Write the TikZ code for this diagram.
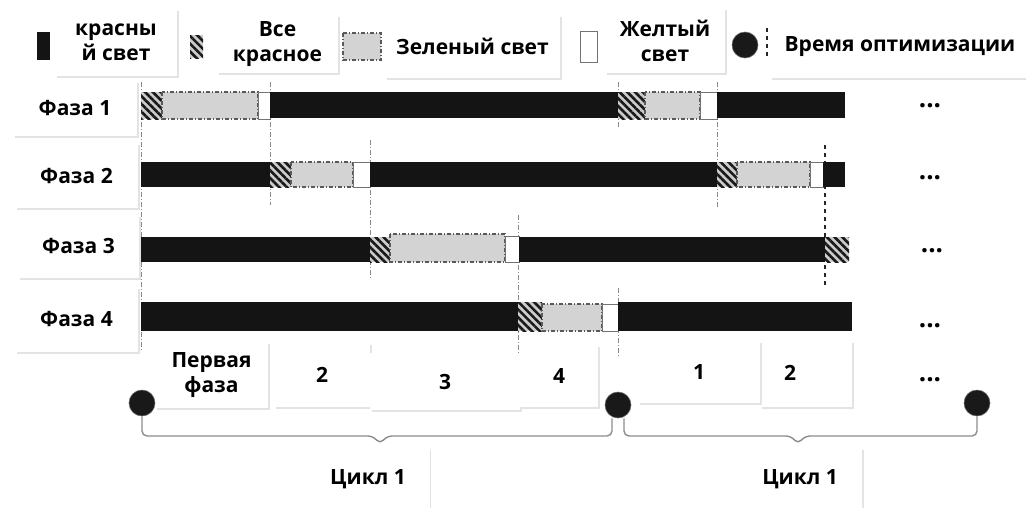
\documentclass[tikz,border=0pt]{standalone}
\usepackage{fontspec}
\setmainfont{Open Sans}
\usetikzlibrary{patterns.meta,shadows,calc}
\definecolor{barblack}{HTML}{141414}
\definecolor{greenfill}{HTML}{D3D3D3}
\definecolor{guide}{HTML}{8A8A8A}
\definecolor{bracegray}{HTML}{8C8C8C}
\begin{document}
\begin{tikzpicture}[x=1pt,y=-1pt,
  redseg/.style={fill=barblack},
  allred/.style={preaction={fill=black!20},
    pattern={Lines[angle=-45,distance=5.5pt,line width=2.6pt]}, pattern color=black!90},
  greenseg/.style={fill=greenfill, draw=black!65, line width=1.1pt, dash pattern=on 4pt off 2pt on 1pt off 2pt},
  yelseg/.style={fill=white, draw=black!55, line width=0.8pt},
  guideline/.style={draw=guide, line width=0.7pt, dash pattern=on 5pt off 2pt on 1pt off 2pt},
  optline/.style={draw=black!85, line width=2.2pt, dash pattern=on 4pt off 4pt},
  box/.style={fill=white, inner sep=0pt, align=center,
    drop shadow={opacity=0.22, shadow xshift=1.5pt, shadow yshift=-2pt},
    font=\bfseries\fontsize{21}{25}\selectfont},
  txt/.style={inner sep=0pt, font=\bfseries\fontsize{21}{25}\selectfont},
  dots/.style={inner sep=0pt, font=\bfseries\fontsize{26}{28}\selectfont},
  dotnode/.style={circle, fill=black!90, draw=black!60, line width=0.6pt, minimum size=26pt, inner sep=0pt},
  bracestyle/.style={draw=bracegray, line width=1.4pt, rounded corners=5pt}
]
\useasboundingbox (0,0) rectangle (1026,507);

% guide lines
\draw[guideline] (141,82) -- (141,352);
\draw[guideline] (270,82) -- (270,205);
\draw[guideline] (370,140) -- (370,280);
\draw[guideline] (518,215) -- (518,356);
\draw[guideline] (618,82) -- (618,128);
\draw[guideline] (618,288) -- (618,356);
\draw[guideline] (717,82) -- (717,208);
\draw[optline] (825,145) -- (825,286);

% Phase 1 bar
\path[allred] (141,92) rectangle (162,119);
\draw[greenseg] (162,92) rectangle (258,119);
\draw[yelseg] (258,92) rectangle (270,119);
\path[redseg] (270,92) rectangle (618,118);
\path[allred] (618,92) rectangle (645,119);
\draw[greenseg] (645,92) rectangle (700,119);
\draw[yelseg] (700,92) rectangle (717,119);
\path[redseg] (717,92) rectangle (845,118);

% Phase 2 bar
\path[redseg] (141,162) rectangle (270,187);
\path[allred] (270,162) rectangle (291,187);
\draw[greenseg] (291,162) rectangle (353,187);
\draw[yelseg] (353,162) rectangle (370,187);
\path[redseg] (370,162) rectangle (717,187);
\path[allred] (717,162) rectangle (737,187);
\draw[greenseg] (737,162) rectangle (810,187);
\draw[yelseg] (810,162) rectangle (823,187);
\path[redseg] (823,162) rectangle (845,187);

% Phase 3 bar
\path[redseg] (141,237) rectangle (370,262);
\path[allred] (370,237) rectangle (390,262);
\draw[greenseg] (390,234) rectangle (505,262);
\draw[yelseg] (505,236) rectangle (519,262);
\path[redseg] (519,237) rectangle (825,262);
\path[allred] (825,237) rectangle (849,262);

% Phase 4 bar
\path[redseg] (141,302) rectangle (518,331);
\path[allred] (518,302) rectangle (542,331);
\draw[greenseg] (542,304) rectangle (602,331);
\draw[yelseg] (602,304) rectangle (618,331);
\path[redseg] (618,302) rectangle (852,331);

% legend swatches
\path[redseg] (37,32) rectangle (50,60);
\path[allred] (190,35) rectangle (203,58);
\draw[greenseg] (343,33) rectangle (381,60);
\draw[yelseg] (580,31) rectangle (597,62);
\node[dotnode] (lc) at (745,45) {};
\draw[optline] (767,28) -- (767,56);

% legend labels
\node[box, minimum width=122pt, minimum height=67pt] (l1) at (116,42) {красны\\й свет};
\node[box, minimum width=121pt, minimum height=58pt] (l2) at (277.5,44) {Все\\красное};
\node[box, minimum width=175pt, minimum height=63pt] (l3) at (472.5,46) {Зеленый свет};
\node[box, minimum width=120pt, minimum height=65pt] (l4) at (665,40.5) {Желтый\\свет};
\node[box, minimum width=260pt, minimum height=63pt] (l5) at (900,46.5) {Время оптимизации};

% phase labels
\node[box, minimum width=124pt, minimum height=55pt] (p1) at (75,108) {Фаза 1};
\node[box, minimum width=123pt, minimum height=65pt] (p2) at (76.5,175.5) {Фаза 2};
\node[box, minimum width=121pt, minimum height=63pt] (p3) at (78.5,246) {Фаза 3};
\node[box, minimum width=123pt, minimum height=65pt] (p4) at (76.5,319) {Фаза 4};

% dots
\node[dots] (d1) at (930,106) {...};
\node[dots] (d2) at (930,178) {...};
\node[dots] (d3) at (932,251) {...};
\node[dots] (d4) at (930,326) {...};
\node[dots] (d5) at (930,380) {...};

% bottom phase-order boxes
\node[box, minimum width=113pt, minimum height=66pt] (b1) at (211.5,375) {Первая\\фаза};
\node[box, minimum width=96pt, minimum height=64pt] (b2) at (322,375) {2};
\node[box, minimum width=150pt, minimum height=57pt] (b3) at (445,381.5) {3};
\node[box, minimum width=78pt, minimum height=62pt] (b4) at (559,376) {4};
\node[box, minimum width=92pt, minimum height=66pt] (b6) at (806,374) {};
\node[txt] (b6t) at (790,373) {2};
\node[box, minimum width=122pt, minimum height=62pt] (b5) at (699,372) {1};

% optimisation time points
\node[dotnode] (c1) at (142,403) {};
\node[dotnode] (c2) at (618,405) {};
\node[dotnode] (c3) at (977,403) {};

% braces
\coordinate (t1) at (380,444);
\coordinate (t2) at (798,444);
\draw[bracestyle] (c1.south) |- ($(t1)+(-7,-8)$) -- (t1) -- ($(t1)+(7,-8)$) -| ([xshift=-6pt]c2.south);
\draw[bracestyle] ([xshift=6pt]c2.south) |- ($(t2)+(-7,-8)$) -- (t2) -- ($(t2)+(7,-8)$) -| (c3.south);

% cycle labels
\node[box, minimum width=123pt, minimum height=62pt] (k1) at (368,479) {Цикл 1};
\node[box, minimum width=124pt, minimum height=62pt] (k2) at (800,479) {Цикл 1};
\end{tikzpicture}
\end{document}
